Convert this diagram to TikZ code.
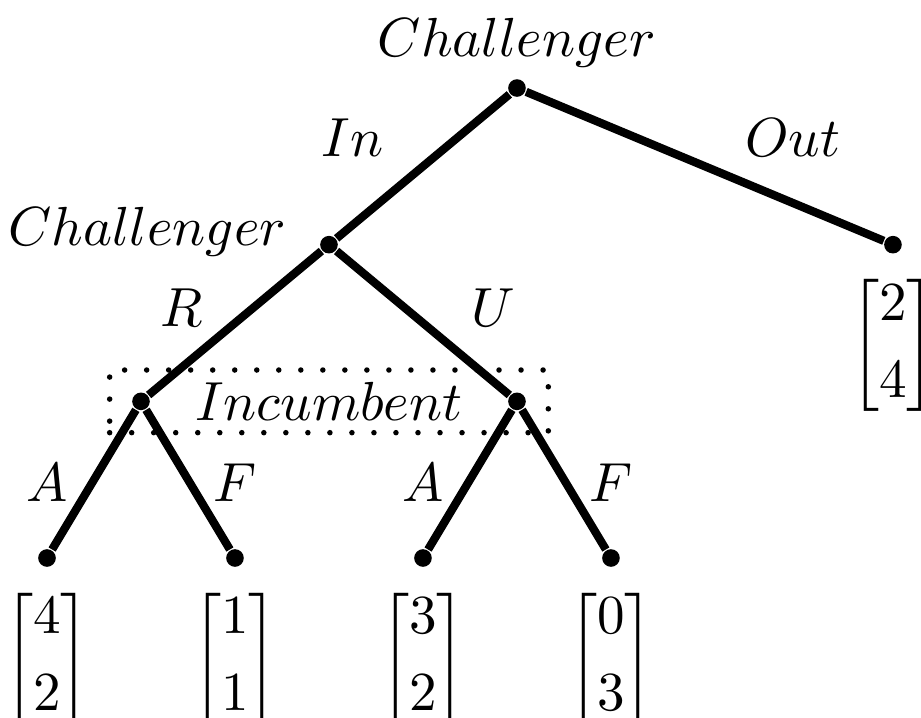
\documentclass[tikz,border=0pt]{standalone}
\usepackage{amsmath}
\usetikzlibrary{positioning}

\begin{document}
\begin{tikzpicture}[
    dot/.style={circle, fill, inner sep=0pt, minimum size=3.2pt},
    branch/.style={line width=1.5pt},
    infoset/.style={draw, line width=1pt, dash pattern=on 0pt off 4pt, line cap=round,
      minimum width=2.8cm, minimum height=0.4cm, inner sep=0pt}]
  \useasboundingbox (-0.3,-1.015) rectangle (5.579,3.562);
  % decision nodes
  \node[dot] (root) at (3,3) {};
  \node[dot] (chal) at (1.8,2) {};
  \node[dot] (out) at (5.4,2) {};
  \node[dot] (incR) at (0.6,1) {};
  \node[dot] (incU) at (3,1) {};
  % terminal nodes
  \node[dot] (RA) at (0,0) {};
  \node[dot] (RF) at (1.2,0) {};
  \node[dot] (UA) at (2.4,0) {};
  \node[dot] (UF) at (3.6,0) {};
  % information set
  \node[infoset] (incset) at (1.8,1) {$Incumbent$};
  % branches
  \draw[branch] (root) -- (chal);
  \draw[branch] (root) -- (out);
  \draw[branch] (chal) -- (incR);
  \draw[branch] (chal) -- (incU);
  \draw[branch] (incR) -- (RA);
  \draw[branch] (incR) -- (RF);
  \draw[branch] (incU) -- (UA);
  \draw[branch] (incU) -- (UF);
  % players and actions
  \node (rootlab) at (3,3.29) {$Challenger$};
  \node (challab) at (0.64,2.08) {$Challenger$};
  \node (actIn) at (1.95,2.68) {$In$};
  \node (actOut) at (4.76,2.68) {$Out$};
  \node (actR) at (0.86,1.6) {$R$};
  \node (actU) at (2.85,1.6) {$U$};
  \node (actRA) at (0,0.48) {$A$};
  \node (actRF) at (1.2,0.48) {$F$};
  \node (actUA) at (2.4,0.48) {$A$};
  \node (actUF) at (3.6,0.48) {$F$};
  % payoffs
  \node[below=0pt of out] (payOut) {$\begin{bmatrix}2\\[2pt]4\end{bmatrix}$};
  \node[below=0pt of RA] (payRA) {$\begin{bmatrix}4\\[2pt]2\end{bmatrix}$};
  \node[below=0pt of RF] (payRF) {$\begin{bmatrix}1\\[2pt]1\end{bmatrix}$};
  \node[below=0pt of UA] (payUA) {$\begin{bmatrix}3\\[2pt]2\end{bmatrix}$};
  \node[below=0pt of UF] (payUF) {$\begin{bmatrix}0\\[2pt]3\end{bmatrix}$};
\end{tikzpicture}
\end{document}
